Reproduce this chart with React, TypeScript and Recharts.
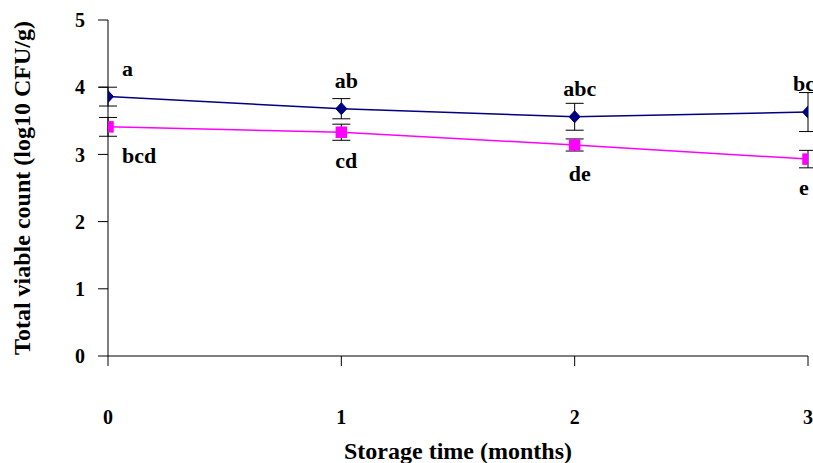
import React from "react";
import {
  LineChart,
  Line,
  XAxis,
  YAxis,
  ErrorBar,
  LabelList,
  Label,
} from "recharts";

// storage time (months)
const months = [0, 1, 2, 3];

// upper series (navy diamonds)
const upperMean = [3.86, 3.68, 3.56, 3.63];
const upperSd = [0.14, 0.15, 0.2, 0.29];
const upperLetters = ["a", "ab", "abc", "bc"];

// lower series (magenta squares)
const lowerMean = [3.41, 3.33, 3.14, 2.93];
const lowerSd = [0.14, 0.12, 0.09, 0.13];
const lowerLetters = ["bcd", "cd", "de", "e"];

const yTicks = [0, 1, 2, 3, 4, 5];

const data = months.map((m, i) => ({
  month: m,
  upper: upperMean[i],
  upperErr: upperSd[i],
  lower: lowerMean[i],
  lowerErr: lowerSd[i],
}));

const FONT = "'Liberation Serif', 'Times New Roman', serif";
const NAVY = "#000080";
const MAGENTA = "#FF00FF";

const Diamond = (props: any) => {
  const { cx, cy } = props;
  if (cx == null || cy == null) return null;
  const rx = 5.5;
  const ry = 6;
  return (
    <polygon
      points={`${cx},${cy - ry} ${cx + rx},${cy} ${cx},${cy + ry} ${cx - rx},${cy}`}
      fill={NAVY}
      stroke={NAVY}
    />
  );
};

const Square = (props: any) => {
  const { cx, cy } = props;
  if (cx == null || cy == null) return null;
  const s = 11.5;
  return <rect x={cx - s / 2} y={cy - s / 2} width={s} height={s} fill={MAGENTA} />;
};

const letterLabel = (letters: string[], dy: number) => (props: any) => {
  const { x, y, index } = props;
  const first = index === 0;
  const last = index === letters.length - 1;
  return (
    <text
      x={x + (first ? 14 : last ? -4 : 5)}
      y={y + dy}
      textAnchor={first ? "start" : "middle"}
      fontFamily={FONT}
      fontWeight="bold"
      fontSize={22}
      fill="#000"
    >
      {letters[index]}
    </text>
  );
};

const YTitle = (props: any) => {
  const vb = props.viewBox || {};
  const cx = (vb.x ?? 0) + 22;
  const cy = (vb.y ?? 0) + (vb.height ?? 0) / 2;
  return (
    <text
      x={cx}
      y={cy}
      transform={`rotate(-90, ${cx}, ${cy})`}
      textAnchor="middle"
      dominantBaseline="central"
      fontFamily={FONT}
      fontWeight="bold"
      fontSize={24}
      fill="#000"
    >
      Total viable count (log10 CFU/g)
    </text>
  );
};

export default function App() {
  const tickStyle = {
    fontFamily: FONT,
    fontWeight: "bold",
    fontSize: 20,
    fill: "#000",
  };
  return (
    <div style={{ position: "absolute", left: 0, top: 0, background: "#fff" }}>
      <LineChart
        width={813}
        height={463}
        data={data}
        margin={{ top: 20, right: 5, left: 0, bottom: 0 }}
      >
        <XAxis
          dataKey="month"
          type="number"
          domain={[0, 3]}
          ticks={months}
          height={107}
          tickSize={10}
          tickMargin={44}
          stroke="#000"
          tick={tickStyle}
          allowDataOverflow
        >
          <Label
            value="Storage time (months)"
            position="insideBottom"
            offset={4}
            style={{ fontFamily: FONT, fontWeight: "bold", fontSize: 24, fill: "#000" }}
          />
        </XAxis>
        <YAxis
          type="number"
          domain={[0, 5]}
          ticks={yTicks}
          width={108}
          tickSize={10}
          tickMargin={13}
          stroke="#000"
          tick={tickStyle}
          label={<YTitle />}
        />
        <Line
          dataKey="upper"
          stroke={NAVY}
          strokeWidth={1.5}
          dot={<Diamond />}
          activeDot={false}
          isAnimationActive={false}
        >
          <ErrorBar dataKey="upperErr" width={9} stroke="#000" strokeWidth={1} direction="y" />
          <LabelList dataKey="upper" content={letterLabel(upperLetters, -21)} />
        </Line>
        <Line
          dataKey="lower"
          stroke={MAGENTA}
          strokeWidth={1.5}
          dot={<Square />}
          activeDot={false}
          isAnimationActive={false}
        >
          <ErrorBar dataKey="lowerErr" width={9} stroke="#000" strokeWidth={1} direction="y" />
          <LabelList dataKey="lower" content={letterLabel(lowerLetters, 36)} />
        </Line>
      </LineChart>
    </div>
  );
}
